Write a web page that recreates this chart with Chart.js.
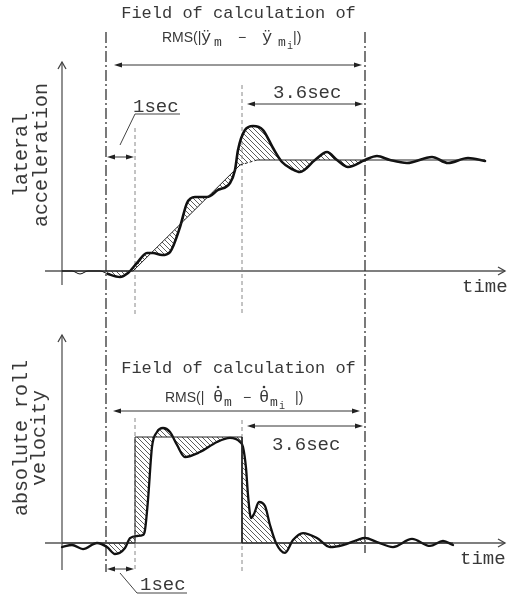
<!DOCTYPE html>
<html>
<head>
<meta charset="utf-8">
<script src="https://cdn.jsdelivr.net/npm/chart.js@4.4.1/dist/chart.umd.min.js"></script>
<style>
  html, body { margin: 0; padding: 0; background: #fff; }
  #wrap { width: 508px; height: 599px; }
</style>
</head>
<body>
<div id="wrap"><canvas id="chart"></canvas></div>
<script>
// time in arbitrary units, values normalised to the target level (1 = target)
const fieldStart = 4.4, stepStart = 7.3, stepEnd = 18.0, fieldEnd = 30.3;

// lateral acceleration: target (thin) and measured (thick)
const accRefT = [0, 7.1, 17.8, 19.5, 42.3];
const accRefV = [0, 0, 0.955, 1.0, 1.0];
const accT = [0, 1.0, 1.8, 2.6, 3.8, 4.6, 5.8, 6.6, 7.5, 8.5, 9.1, 10.0, 10.8, 11.8, 12.5, 13.3, 14.5,
  15.6, 16.8, 17.3, 17.6, 18.3, 19.1, 20.1, 21.1, 22.0, 23.0, 23.8, 25.3, 26.5, 27.5, 28.6, 30.3,
  31.5, 32.8, 34.5, 37.0, 38.6, 40.6, 42.3];
const accV = [0, 0, -0.027, 0, 0, -0.027, -0.054, -0.018, 0.072, 0.162, 0.162, 0.144, 0.171, 0.396,
  0.613, 0.667, 0.667, 0.730, 0.793, 0.910, 1.090, 1.270, 1.306, 1.270, 1.108, 0.982, 0.919, 0.892,
  1.0, 1.072, 1.0, 0.937, 1.0, 1.036, 1.0, 0.973, 1.027, 0.973, 1.018, 0.991];

// absolute roll velocity: target (thin) and measured (thick)
const rollRefT = [0, 7.3, 7.3, 18.0, 18.0, 39.1];
const rollRefV = [0, 0, 1, 1, 0, 0];
const rollT = [0, 1.0, 2.1, 3.5, 4.5, 5.3, 6.3, 6.8, 7.5, 8.1, 8.3, 8.6, 9.0, 9.5, 10.1, 10.8, 11.5,
  12.3, 13.8, 15.5, 16.8, 17.8, 18.1, 18.4, 18.6, 18.9, 19.2, 19.7, 20.3, 20.8, 21.4, 22.3, 23.1,
  24.1, 25.5, 26.8, 28.1, 29.5, 30.3, 31.5, 33.1, 35.0, 36.8, 38.1, 39.1];
const rollV = [-0.038, -0.019, -0.057, 0, -0.038, -0.104, -0.047, 0.047, 0.066, 0.075, 0.123, 0.406,
  0.906, 1.047, 1.085, 1.047, 0.925, 0.811, 0.858, 0.953, 0.991, 0.953, 0.906, 0.708, 0.453, 0.236,
  0.274, 0.387, 0.349, 0.170, 0, -0.094, 0.028, 0.094, 0.047, -0.038, -0.019, 0.028, 0.047, 0.009,
  -0.038, 0.038, -0.028, 0.019, -0.019];

const pts = (ts, vs) => ts.map((t, i) => ({ x: t, y: vs[i] }));
const MONO = '"Liberation Mono", "Courier New", monospace';
const SANS = '"Liberation Sans", Arial, sans-serif';
const INK = '#383838';

function makeHatch(ctx) {
  const c = document.createElement('canvas');
  c.width = 5; c.height = 5;
  const g = c.getContext('2d');
  g.strokeStyle = '#4a4a4a';
  g.lineWidth = 0.9;
  g.beginPath();
  g.moveTo(-1, -1); g.lineTo(6, 6);
  g.moveTo(-1, 4); g.lineTo(1, 6);
  g.moveTo(4, -1); g.lineTo(6, 1);
  g.stroke();
  return ctx.createPattern(c, 'repeat');
}

function line(ctx, x0, y0, x1, y1, dash, color, w) {
  ctx.save();
  ctx.strokeStyle = color || INK;
  ctx.lineWidth = w || 1;
  ctx.setLineDash(dash || []);
  ctx.beginPath();
  ctx.moveTo(x0, y0);
  ctx.lineTo(x1, y1);
  ctx.stroke();
  ctx.restore();
}

function head(ctx, x, y, dir) {
  ctx.beginPath();
  ctx.moveTo(x, y);
  ctx.lineTo(x - dir * 8, y - 2.5);
  ctx.lineTo(x - dir * 8, y + 2.5);
  ctx.closePath();
  ctx.fill();
}

function span(ctx, x0, x1, y) {
  ctx.save();
  ctx.fillStyle = '#222';
  line(ctx, x0 + 3, y, x1 - 3, y, null, '#333', 1);
  head(ctx, x0, y, -1);
  head(ctx, x1, y, 1);
  ctx.restore();
}

function chevron(ctx, x, y, dx, dy) {
  // open arrow tip pointing along (dx, dy)
  ctx.save();
  ctx.strokeStyle = '#444';
  ctx.lineWidth = 1.3;
  ctx.beginPath();
  ctx.moveTo(x - dx * 7 - dy * 4, y - dy * 7 - dx * 4);
  ctx.lineTo(x, y);
  ctx.lineTo(x - dx * 7 + dy * 4, y - dy * 7 + dx * 4);
  ctx.stroke();
  ctx.restore();
}

function text(ctx, s, x, y, font, align) {
  ctx.font = font;
  ctx.textAlign = align || 'left';
  ctx.textBaseline = 'alphabetic';
  ctx.fillText(s, x, y);
}

function vtext(ctx, s, x, y, font) {
  ctx.save();
  ctx.translate(x, y);
  ctx.rotate(-Math.PI / 2);
  text(ctx, s, 0, 0, font, 'center');
  ctx.restore();
}

const hatchPlugin = {
  id: 'hatch',
  beforeDatasetsDraw(chart) {
    const ctx = chart.ctx, area = chart.chartArea, xs = chart.scales.x;
    if (!chart.$hatch) chart.$hatch = makeHatch(ctx);
    const x0 = xs.getPixelForValue(fieldStart), x1 = xs.getPixelForValue(fieldEnd);
    [[0, 1], [2, 3]].forEach(([ri, ai]) => {
      const ref = chart.getDatasetMeta(ri).dataset;
      const act = chart.getDatasetMeta(ai).dataset;
      ref.updateControlPoints(area, 'x');
      act.updateControlPoints(area, 'x');
      ctx.save();
      ctx.beginPath();
      ctx.rect(x0, area.top, x1 - x0, area.bottom - area.top);
      ctx.clip();
      ctx.beginPath();
      act.segments.forEach((s, i) => act.pathSegment(ctx, s, { move: i === 0 }));
      ref.segments.slice().reverse().forEach(s => ref.pathSegment(ctx, s, { move: false, reverse: true }));
      ctx.closePath();
      ctx.fillStyle = chart.$hatch;
      ctx.fill();
      ctx.restore();
    });

    // axes
    const X = v => xs.getPixelForValue(v);
    const ya = chart.scales.yA, yb = chart.scales.yB;
    const ox = X(0);
    [[ya.getPixelForValue(0), 62, 285], [yb.getPixelForValue(0), 335, 570]].forEach(([zy, top, bot]) => {
      line(ctx, 45, zy, 505, zy, null, '#555', 1.3);
      chevron(ctx, 505, zy, 1, 0);
      line(ctx, ox, bot, ox, top, null, '#555', 1.3);
      chevron(ctx, ox, top, 0, -1);
    });

    // guide lines
    const dashDot = [11, 3, 2, 3];
    line(ctx, X(fieldStart), 32, X(fieldStart), 572, dashDot, '#333', 1.3);
    line(ctx, X(fieldEnd), 32, X(fieldEnd), 553, dashDot, '#333', 1.3);
    line(ctx, X(stepStart), 128, X(stepStart), 315, [4, 3], '#888', 1);
    line(ctx, X(stepEnd), 85, X(stepEnd), 315, [4, 3], '#888', 1);
    line(ctx, X(stepStart), 418, X(stepStart), 572, [4, 3], '#888', 1);
    line(ctx, X(stepEnd), 420, X(stepEnd), 572, [4, 3], '#888', 1);
  },
  afterDatasetsDraw(chart) {
    const ctx = chart.ctx, xs = chart.scales.x;
    const X = v => xs.getPixelForValue(v);
    ctx.save();
    ctx.fillStyle = INK;
    const mid = (X(fieldStart) + X(fieldEnd)) / 2 + 3;

    // top panel texts
    text(ctx, 'Field of calculation of', mid, 18, '17px ' + MONO, 'center');
    let s = 162, b = 42;
    text(ctx, 'RMS(|', s, b, '14px ' + SANS);
    text(ctx, 'ÿ', s + 39, b, '17px ' + MONO);
    text(ctx, 'm', s + 52, b + 4, '13px ' + MONO);
    text(ctx, '−', s + 76, b, '14px ' + SANS);
    text(ctx, 'ÿ', s + 100, b, '17px ' + MONO);
    text(ctx, 'm', s + 116, b + 4, '13px ' + MONO);
    text(ctx, 'i', s + 125, b + 7, '10px ' + MONO);
    text(ctx, '|)', s + 131, b, '14px ' + SANS);
    span(ctx, X(fieldStart) + 8, X(fieldEnd) - 3, 65);
    text(ctx, '3.6sec', 273, 98, '19px ' + MONO);
    span(ctx, X(stepEnd) + 5, X(fieldEnd) - 2, 104);
    text(ctx, '1sec', 133, 112, '19px ' + MONO);
    line(ctx, 120, 145, 135, 114, null, '#444', 1);
    line(ctx, 135, 114, 180, 114, null, '#444', 1);
    span(ctx, X(fieldStart) + 1, X(stepStart) - 1, 157);
    text(ctx, 'time', 462, 292, '19px ' + MONO);
    vtext(ctx, 'lateral', 27, 155, '20px ' + MONO);
    vtext(ctx, 'acceleration', 47, 155, '20px ' + MONO);

    // bottom panel texts
    text(ctx, 'Field of calculation of', mid, 373, '17px ' + MONO, 'center');
    s = 165; b = 402;
    text(ctx, 'RMS(|', s, b, '14px ' + SANS);
    text(ctx, 'θ', s + 48, b, '17px ' + MONO);
    text(ctx, 'm', s + 59, b + 4, '13px ' + MONO);
    text(ctx, '−', s + 78, b, '14px ' + SANS);
    text(ctx, 'θ', s + 94, b, '17px ' + MONO);
    text(ctx, 'm', s + 105, b + 4, '13px ' + MONO);
    text(ctx, 'i', s + 114, b + 7, '10px ' + MONO);
    text(ctx, '|)', s + 130, b, '14px ' + SANS);
    [s + 53, s + 99].forEach(dx => {
      ctx.beginPath();
      ctx.arc(dx, b - 15, 1.3, 0, Math.PI * 2);
      ctx.fill();
    });
    span(ctx, X(fieldStart) + 7, X(fieldEnd) - 5, 411);
    span(ctx, X(stepEnd) + 5, X(fieldEnd) - 2, 426);
    text(ctx, '3.6sec', 272, 450, '19px ' + MONO);
    span(ctx, X(fieldStart) + 1, X(stepStart) - 1, 569);
    text(ctx, '1sec', 140, 590, '19px ' + MONO);
    line(ctx, 120, 573, 137, 593, null, '#444', 1);
    line(ctx, 137, 593, 187, 593, null, '#444', 1);
    text(ctx, 'time', 460, 564, '19px ' + MONO);
    vtext(ctx, 'absolute roll', 27, 438, '20px ' + MONO);
    vtext(ctx, 'velocity', 45, 438, '20px ' + MONO);
    ctx.restore();
  }
};

const thin = { borderColor: '#222', borderWidth: 1, pointRadius: 0, tension: 0, fill: false };
const thick = {
  borderColor: '#111', borderWidth: 2.6, pointRadius: 0, cubicInterpolationMode: 'monotone',
  borderCapStyle: 'round', borderJoinStyle: 'round', fill: false
};

new Chart(document.getElementById('chart'), {
  type: 'line',
  data: {
    datasets: [
      Object.assign({}, thin, {
        data: pts(accRefT, accRefV), yAxisID: 'yA',
        segment: { borderDash: c => (c.p0DataIndex === 2 ? [3, 2] : undefined) }
      }),
      Object.assign({}, thick, {
        data: pts(accT, accV), yAxisID: 'yA',
        segment: { borderWidth: c => (c.p0.parsed.x < fieldStart ? 1 : 2.6) }
      }),
      Object.assign({}, thin, { data: pts(rollRefT, rollRefV), yAxisID: 'yB' }),
      Object.assign({}, thick, { data: pts(rollT, rollV), yAxisID: 'yB', borderWidth: 2.3 })
    ]
  },
  options: {
    responsive: true,
    maintainAspectRatio: false,
    animation: false,
    events: [],
    layout: { padding: 0 },
    plugins: { legend: { display: false }, tooltip: { enabled: false } },
    scales: {
      x: { type: 'linear', min: -6.2, max: 44.6, display: false },
      yA: { type: 'linear', min: -328 / 111, max: 271 / 111, display: false },
      yB: { type: 'linear', min: -56 / 106, max: 543 / 106, display: false }
    }
  },
  plugins: [hatchPlugin]
});
</script>
</body>
</html>
